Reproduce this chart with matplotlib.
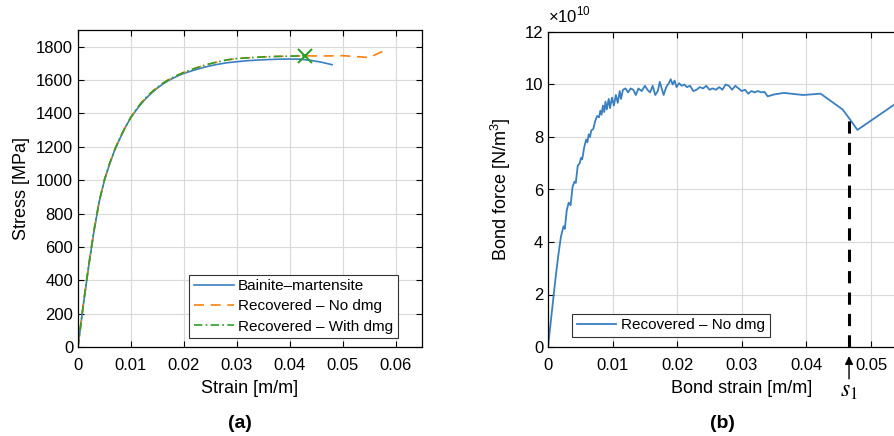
import numpy as np
import matplotlib
matplotlib.use("Agg")
import matplotlib.pyplot as plt

plt.rcParams['font.family'] = ['Liberation Sans', 'DejaVu Sans']
plt.rcParams['mathtext.fontset'] = 'custom'
plt.rcParams['mathtext.rm'] = 'Liberation Sans'

# ---- data (a): stress-strain
bm_strain = [0, 0.001, 0.002, 0.003, 0.004, 0.005, 0.006, 0.007, 0.008, 0.009, 0.010,
             0.011, 0.012, 0.013, 0.014, 0.015, 0.016, 0.017, 0.018, 0.019, 0.020,
             0.022, 0.024, 0.026, 0.028, 0.030, 0.032, 0.034, 0.036, 0.038, 0.040,
             0.042, 0.044, 0.046, 0.048]
bm_stress = [0, 250, 480, 690, 870, 1000, 1100, 1185, 1255, 1320, 1375,
             1420, 1460, 1495, 1525, 1552, 1575, 1595, 1612, 1627, 1640,
             1660, 1678, 1692, 1703, 1710, 1716, 1720, 1723, 1725, 1726,
             1725, 1718, 1707, 1692]

nd_strain = [0, 0.001, 0.002, 0.003, 0.004, 0.005, 0.006, 0.007, 0.008, 0.009, 0.010,
             0.011, 0.012, 0.013, 0.014, 0.015, 0.016, 0.017, 0.018, 0.019, 0.020,
             0.022, 0.024, 0.026, 0.028, 0.030, 0.032, 0.034, 0.036, 0.038, 0.040,
             0.043, 0.046, 0.048, 0.050, 0.052, 0.055, 0.058]
nd_stress = [0, 255, 485, 695, 872, 1003, 1102, 1188, 1258, 1322, 1378,
             1424, 1465, 1500, 1530, 1557, 1580, 1600, 1617, 1632, 1646,
             1669, 1690, 1706, 1720, 1729, 1733, 1737, 1740, 1742, 1743,
             1745, 1744, 1745, 1746, 1742, 1735, 1778]

wd_strain = nd_strain[:31] + [0.0428]
wd_stress = nd_stress[:31] + [1746]
fail_strain = 0.0428
fail_stress = 1746

# ---- data (b): bond force (x1e10) vs bond strain
bond_strain = [0, 0.0004, 0.0008, 0.0012, 0.0016, 0.0020, 0.0024, 0.0026, 0.0029, 0.0032,
               0.0035, 0.0038, 0.0041, 0.0043, 0.0046, 0.0049, 0.0051, 0.0053, 0.0056, 0.0059,
               0.0061, 0.0063, 0.0065, 0.0067, 0.0070, 0.0073, 0.0076, 0.0079, 0.0081, 0.0083,
               0.0085, 0.0087, 0.0089, 0.0091, 0.0094, 0.0096, 0.0099, 0.0102, 0.0105, 0.0108,
               0.0111, 0.0113, 0.0116, 0.0120, 0.0124, 0.0128, 0.0132, 0.0136, 0.0140, 0.0145,
               0.0150, 0.0154, 0.0158, 0.0162, 0.0166, 0.0170, 0.0173, 0.0176, 0.0179, 0.0183,
               0.0187, 0.0190, 0.0193, 0.0196, 0.0199, 0.0203, 0.0207, 0.0211, 0.0215, 0.0220,
               0.0225, 0.0230, 0.0235, 0.0240, 0.0245, 0.0250, 0.0255, 0.0260, 0.0265, 0.0270,
               0.0275, 0.0280, 0.0285, 0.0290, 0.0295, 0.0300, 0.0305, 0.0310, 0.0315, 0.0320,
               0.0325, 0.0330, 0.0335, 0.0340, 0.0350, 0.0365, 0.0380, 0.0395, 0.0422, 0.0456,
               0.0466, 0.0479, 0.0537, 0.0555]
bond_force = [0, 0.9, 1.8, 2.7, 3.5, 4.2, 4.6, 4.5, 5.2, 5.5,
              5.4, 6.1, 6.3, 6.25, 6.9, 7.0, 7.2, 7.15, 7.6, 7.9,
              7.8, 8.1, 8.0, 8.25, 8.3, 8.6, 8.8, 8.75, 9.0, 8.85,
              9.2, 8.95, 9.35, 9.05, 9.45, 9.1, 9.5, 9.2, 9.6, 9.3,
              9.75, 9.45, 9.8, 9.85, 9.7, 9.85, 9.8, 9.6, 9.85, 9.75,
              9.95, 9.8, 9.7, 9.95, 9.6, 9.75, 10.1, 9.85, 9.6, 9.9,
              10.05, 10.2, 10.0, 10.15, 9.9, 10.05, 9.95, 10.0, 9.9, 9.95,
              9.75, 9.8, 9.9, 9.85, 9.95, 9.8, 9.85, 9.8, 9.9, 9.8,
              10.0, 9.95, 9.8, 9.95, 9.85, 9.75, 9.8, 9.65, 9.75, 9.7,
              9.75, 9.7, 9.72, 9.55, 9.62, 9.68, 9.64, 9.6, 9.65, 9.05,
              8.72, 8.27, 9.25, 9.55]
s1_strain = 0.0466
s1_force = 8.72

blue = '#3a7fbf'
orange = '#ff7f0e'
green = '#2ca02c'
grid_kw = dict(color='#d9d9d9', linewidth=0.8)


def matlab_style(ax):
    ax.grid(True, **grid_kw)
    ax.set_axisbelow(True)
    ax.tick_params(direction='in', top=True, right=True, labelsize=12, length=4, width=0.8)
    ax.tick_params(axis='x', pad=8)
    for s in ax.spines.values():
        s.set_linewidth(0.9)


fig = plt.figure(figsize=(8.94, 4.36), dpi=100)

# ---- panel (a)
ax1 = fig.add_axes([78 / 894, 89 / 436, 344 / 894, 317 / 436])
ax1.plot(bm_strain, bm_stress, color=blue, lw=1.2, label='Bainite\u2013martensite')
ax1.plot(nd_strain, nd_stress, color=orange, lw=1.2, ls=(0, (6, 4)), label='Recovered \u2013 No dmg')
ax1.plot(wd_strain, wd_stress, color=green, lw=1.2, ls=(0, (5, 2, 1, 2)), label='Recovered \u2013 With dmg')
ax1.plot([fail_strain], [fail_stress], marker='x', color=green, ms=10, mew=1.5)
ax1.set_xlim(0, 0.065)
ax1.set_ylim(0, 1900)
ax1.set_xticks([0, 0.01, 0.02, 0.03, 0.04, 0.05, 0.06])
ax1.set_xticklabels(['0', '0.01', '0.02', '0.03', '0.04', '0.05', '0.06'])
ax1.set_yticks(np.arange(0, 1801, 200))
ax1.set_xlabel('Strain [m/m]', fontsize=13, labelpad=5)
ax1.set_ylabel('Stress [MPa]', fontsize=13, labelpad=4)
matlab_style(ax1)
leg1 = ax1.legend(loc='lower right', bbox_to_anchor=(0.93, 0.028), borderaxespad=0,
                  fontsize=11, fancybox=False, edgecolor='#333333', framealpha=1,
                  handlelength=2.6, handletextpad=0.3, labelspacing=0.4, borderpad=0.3)
leg1.get_frame().set_linewidth(0.8)
fig.text(240 / 894, 1 - 423 / 436, '(a)', fontsize=14, fontweight='bold', ha='center', va='center')

# ---- panel (b)
ax2 = fig.add_axes([548 / 894, 89 / 436, 387.6 / 894, 315 / 436])
ax2.plot(bond_strain, bond_force, color=blue, lw=1.3, label='Recovered \u2013 No dmg')
ax2.plot([s1_strain, s1_strain], [0, s1_force], color='black', lw=2.2, ls=(0, (4, 3)))
ax2.set_xlim(0, 0.06)
ax2.set_ylim(0, 12)
ax2.set_xticks([0, 0.01, 0.02, 0.03, 0.04, 0.05])
ax2.set_xticklabels(['0', '0.01', '0.02', '0.03', '0.04', '0.05'])
ax2.set_yticks(np.arange(0, 13, 2))
ax2.set_xlabel('Bond strain [m/m]', fontsize=13, labelpad=5)
ax2.set_ylabel('Bond force [N/m$^3$]', fontsize=13, labelpad=8)
matlab_style(ax2)
ax2.text(0.0, 1.02, '\u00d710$^{10}$', transform=ax2.transAxes, fontsize=12, ha='left', va='bottom')
leg2 = ax2.legend(loc='lower left', bbox_to_anchor=(0.062, 0.032), borderaxespad=0,
                  fontsize=11, fancybox=False, edgecolor='#333333', framealpha=1,
                  handlelength=2.6, handletextpad=0.3, borderpad=0.3)
leg2.get_frame().set_linewidth(0.8)
ax2.annotate('', xy=(s1_strain, -0.02), xytext=(s1_strain, -0.11),
             xycoords=('data', 'axes fraction'), textcoords=('data', 'axes fraction'),
             arrowprops=dict(arrowstyle='-|>', color='black', lw=1.0, mutation_scale=12),
             annotation_clip=False)
ax2.text(s1_strain, -0.14, '$s_1$', transform=ax2.get_xaxis_transform(), fontsize=17,
         ha='center', va='center', math_fontfamily='stix')
fig.text(722 / 894, 1 - 423 / 436, '(b)', fontsize=14, fontweight='bold', ha='center', va='center')

fig.savefig('out.png', dpi=100)
